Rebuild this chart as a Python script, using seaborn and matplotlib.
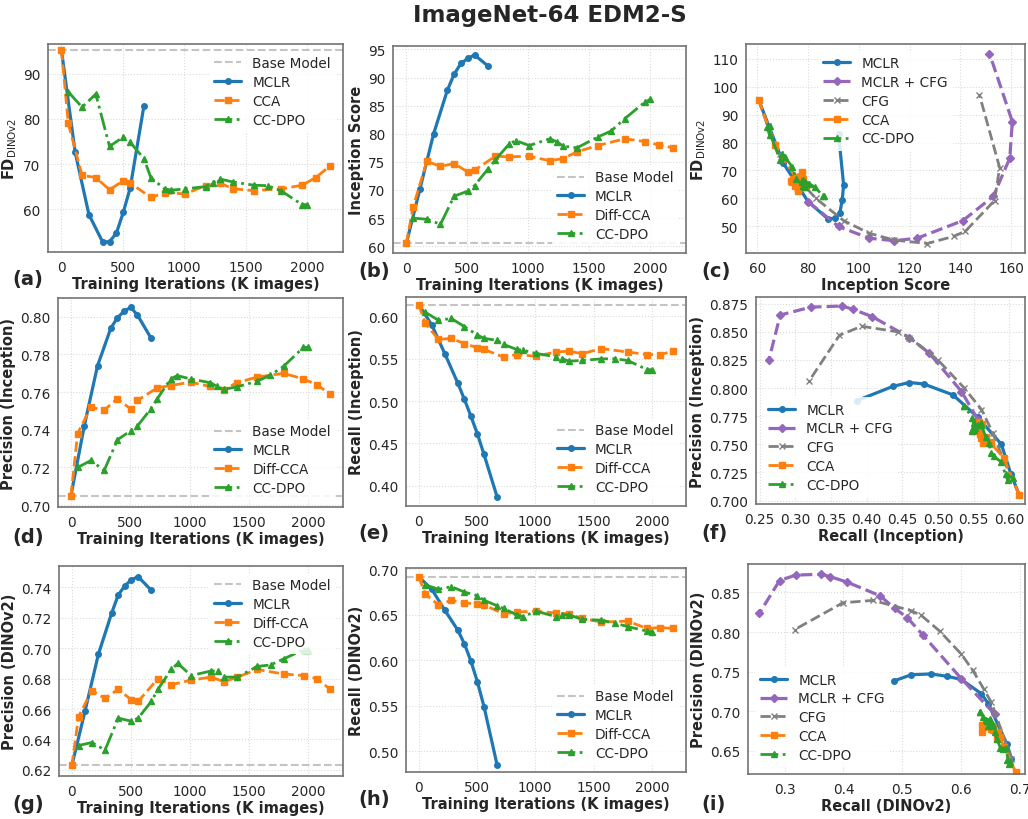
import numpy as np
import seaborn as sns
import matplotlib
matplotlib.use("Agg")
import matplotlib.pyplot as plt
from matplotlib.ticker import MultipleLocator

# training steps (K images)
mclr_k = [0, 112, 224, 336, 392, 448, 504, 560, 672]
cca_k = [0, 56, 168, 280, 392, 504, 560, 728, 840, 1008, 1176, 1288, 1400, 1568, 1792, 1960, 2072, 2184]
dpo_k = [56, 168, 280, 392, 504, 560, 672, 728, 840, 896, 1008, 1176, 1232, 1288, 1400, 1568, 1680, 1792, 1960, 2000]

# base model values
base_fd = 95.3
base_is = 60.5
base_prec_inc = 0.705
base_rec_inc = 0.614
base_prec_dino = 0.623
base_rec_dino = 0.692

# FD DINOv2 (a)
fd_mclr = [95.3, 72.6, 58.8, 52.7, 52.8, 54.7, 59.3, 64.7, 82.9]
fd_cca = [95.3, 79, 67.5, 67, 64.3, 66.3, 65.8, 62.6, 63.6, 63.4, 65.2, 65.8, 64.5, 64.1, 64.5, 65.3, 67, 69.5]
fd_dpo = [86, 82.6, 85.5, 73.9, 76, 74.8, 71.2, 67, 64.5, 64.2, 64.5, 65, 65.8, 66.7, 66, 65.3, 65.2, 64, 61, 61]

# Inception score (b)
is_mclr = [60.5, 70.2, 80, 87.7, 90.6, 92.5, 93.4, 94, 92]
is_cca = [60.5, 67, 75.1, 74.2, 74.7, 73.2, 73.5, 76, 75.9, 76, 75.2, 75.6, 76.8, 77.9, 79.1, 78.6, 78, 77.5]
is_dpo = [65, 64.8, 63.9, 68.9, 69.8, 70.8, 73.8, 75.3, 78.1, 78.8, 77.9, 79.1, 78.6, 77.8, 77.5, 79.4, 80.5, 82.7, 85.7, 86.1]

# Precision / Recall (Inception) (d, e)
prec_inc_mclr = [0.705, 0.742, 0.774, 0.794, 0.7995, 0.803, 0.805, 0.801, 0.789]
prec_inc_cca = [0.705, 0.738, 0.752, 0.7505, 0.7565, 0.751, 0.7556, 0.7623, 0.7635, 0.7653, 0.763, 0.7614,
                0.765, 0.768, 0.770, 0.767, 0.764, 0.759]
prec_inc_dpo = [0.720, 0.7237, 0.7184, 0.7347, 0.7395, 0.742, 0.751, 0.7565, 0.767, 0.7688, 0.767, 0.765,
                0.763, 0.7615, 0.7628, 0.7658, 0.769, 0.7737, 0.7838, 0.7838]
rec_inc_mclr = [0.614, 0.590, 0.556, 0.521, 0.502, 0.482, 0.461, 0.437, 0.387]
rec_inc_cca = [0.614, 0.592, 0.573, 0.574, 0.568, 0.563, 0.561, 0.552, 0.555, 0.553, 0.558, 0.559,
               0.556, 0.562, 0.558, 0.555, 0.555, 0.559]
rec_inc_dpo = [0.605, 0.5956, 0.5976, 0.588, 0.578, 0.5741, 0.5718, 0.567, 0.561, 0.560, 0.5563, 0.5523,
               0.550, 0.5471, 0.548, 0.5499, 0.550, 0.548, 0.5372, 0.537]

# Precision / Recall (DINOv2) (g, h)
prec_dino_mclr = [0.623, 0.659, 0.696, 0.723, 0.735, 0.741, 0.745, 0.747, 0.738]
prec_dino_cca = [0.623, 0.655, 0.672, 0.667, 0.673, 0.666, 0.665, 0.680, 0.676, 0.679, 0.681, 0.678,
                 0.681, 0.686, 0.683, 0.682, 0.680, 0.673]
prec_dino_dpo = [0.636, 0.638, 0.633, 0.654, 0.652, 0.654, 0.665, 0.673, 0.686, 0.690, 0.682, 0.685,
                 0.685, 0.681, 0.681, 0.688, 0.689, 0.693, 0.699, 0.699]
rec_dino_mclr = [0.692, 0.678, 0.655, 0.633, 0.618, 0.599, 0.576, 0.549, 0.485]
rec_dino_cca = [0.692, 0.673, 0.661, 0.666, 0.663, 0.662, 0.661, 0.651, 0.653, 0.654, 0.652, 0.651,
                0.646, 0.642, 0.643, 0.635, 0.636, 0.635]
rec_dino_dpo = [0.683, 0.678, 0.681, 0.675, 0.671, 0.666, 0.660, 0.657, 0.650, 0.648, 0.654, 0.648,
                0.650, 0.650, 0.645, 0.644, 0.641, 0.637, 0.632, 0.631]

# guidance sweeps (c)
is_cfg = [60.5, 64, 69, 75, 83, 94, 104, 114, 127, 137.5, 142, 153.5, 155.5, 147.5]
fd_cfg = [95.3, 86, 76, 68, 60, 52, 47.5, 45, 43.8, 46.4, 48.2, 59.2, 71, 97.2]
is_mcfg = [80, 92, 104, 114, 123, 141, 153, 159.5, 160.5, 151.5]
fd_mcfg = [58.8, 49.9, 45.7, 44.8, 45.7, 52, 60.7, 74.4, 87.5, 111.9]

# (f)
f_rec_mclr = [0.614, 0.602, 0.589, 0.556, 0.521, 0.480, 0.460, 0.437, 0.387]
f_prec_mclr = [0.705, 0.724, 0.750, 0.774, 0.794, 0.8037, 0.805, 0.8016, 0.789]
f_rec_cfg = [0.614, 0.592, 0.577, 0.561, 0.537, 0.50, 0.460, 0.444, 0.393, 0.362, 0.319]
f_prec_cfg = [0.705, 0.736, 0.760, 0.781, 0.800, 0.825, 0.845, 0.850, 0.855, 0.847, 0.806]
f_rec_mcfg = [0.556, 0.533, 0.488, 0.460, 0.408, 0.381, 0.366, 0.322, 0.279, 0.263]
f_prec_mcfg = [0.772, 0.797, 0.831, 0.845, 0.8635, 0.870, 0.873, 0.872, 0.865, 0.825]

# (i)
i_rec_mclr = [0.685, 0.677, 0.646, 0.634, 0.600, 0.576, 0.549, 0.515, 0.485]
i_prec_mclr = [0.640, 0.659, 0.709, 0.722, 0.740, 0.744, 0.747, 0.746, 0.738]
i_rec_cfg = [0.685, 0.651, 0.638, 0.619, 0.600, 0.5635, 0.532, 0.515, 0.450, 0.399, 0.317]
i_prec_cfg = [0.640, 0.711, 0.728, 0.752, 0.772, 0.801, 0.821, 0.827, 0.840, 0.837, 0.803]
i_rec_mcfg = [0.657, 0.600, 0.535, 0.5085, 0.487, 0.4615, 0.4065, 0.3776, 0.3623, 0.3187, 0.2915, 0.2575]
i_prec_mcfg = [0.696, 0.741, 0.796, 0.818, 0.830, 0.846, 0.863, 0.870, 0.873, 0.872, 0.865, 0.824]

BLUE, ORANGE, GREEN, PURPLE, GRAY = "#1f77b4", "#ff7f0e", "#2ca02c", "#9467bd", "#808080"

sns.set_style("whitegrid", {"grid.color": "0.86", "grid.linestyle": ":", "axes.edgecolor": "0.45"})
plt.rcParams["font.size"] = 10

fig = plt.figure(figsize=(10.28, 8.2), dpi=100)

# axes boxes in pixels: left, top, right, bottom
boxes = [(48, 45, 343, 253), (393, 47, 686, 254), (746, 45, 1025, 254),
         (58, 299, 343, 508), (406, 298, 686, 507), (756, 298, 1025, 505),
         (59, 567, 343, 777), (406, 569, 686, 773), (748, 565, 1025, 775)]
axes = []
for l, t, r, b in boxes:
    axes.append(fig.add_axes([l / 1028, 1 - b / 820, (r - l) / 1028, (b - t) / 820]))

# panel tag positions (pixels)
tag_x = [12, 358, 701] * 3
tag_y = [279, 272, 272, 537, 534, 534, 805, 800, 805]

LAB = 10.5
LEG = 9.8


def line(ax, x, y, label, color, ls, marker, lw=2.0, ms=4.5):
    sns.lineplot(x=x, y=y, ax=ax, color=color, linestyle=ls, marker=marker, linewidth=lw,
                 markersize=ms, markeredgecolor=color, markeredgewidth=1.0,
                 label=label, sort=False, estimator=None)


def finish_legend(ax, loc):
    ax.legend(loc=loc, frameon=True, edgecolor="none", framealpha=0.85, fontsize=LEG,
              labelspacing=0.35)


def training_panel(ax, base, ym, yc, yd, cca_name, ylabel, loc, ylim, ystep):
    ax.axhline(base, color="#c4c4c4", ls="--", lw=1.5, label="Base Model")
    line(ax, mclr_k, ym, "MCLR", BLUE, "-", "o", lw=2.3, ms=4)
    line(ax, cca_k, yc, cca_name, ORANGE, "--", "s", ms=4)
    line(ax, dpo_k, yd, "CC-DPO", GREEN, "-.", "^", ms=4)
    ax.set_ylim(*ylim)
    ax.xaxis.set_major_locator(MultipleLocator(500))
    ax.yaxis.set_major_locator(MultipleLocator(ystep))
    ax.set_xlabel("Training Iterations (K images)", fontweight="bold", fontsize=LAB)
    ax.set_ylabel(ylabel, fontweight="bold", fontsize=LAB)
    finish_legend(ax, loc)


def tradeoff_panel(ax, xm, ym, xg, yg, xc, yc, xca, yca, xd, yd, xlabel, ylabel, loc, xstep, ystep):
    line(ax, xm, ym, "MCLR", BLUE, "-", "o", lw=2.3, ms=4)
    line(ax, xg, yg, "MCLR + CFG", PURPLE, "--", "D", lw=2.3, ms=4)
    line(ax, xc, yc, "CFG", GRAY, "--", "x", lw=2.0, ms=4.5)
    line(ax, xca, yca, "CCA", ORANGE, "--", "s", ms=4)
    line(ax, xd, yd, "CC-DPO", GREEN, "-.", "^", ms=4)
    ax.xaxis.set_major_locator(MultipleLocator(xstep))
    ax.yaxis.set_major_locator(MultipleLocator(ystep))
    ax.set_xlabel(xlabel, fontweight="bold", fontsize=LAB)
    ax.set_ylabel(ylabel, fontweight="bold", fontsize=LAB)
    finish_legend(ax, loc)


fd_label = r"$\mathbf{FD}_{\mathrm{DINOv2}}$"

training_panel(axes[0], base_fd, fd_mclr, fd_cca, fd_dpo, "CCA", fd_label, "upper right", (50.5, 96.6), 10)
training_panel(axes[1], base_is, is_mclr, is_cca, is_dpo, "Diff-CCA", "Inception Score", "lower right",
               (58.8, 95.6), 5)
tradeoff_panel(axes[2], is_mclr, fd_mclr, is_mcfg, fd_mcfg, is_cfg, fd_cfg, is_cca, fd_cca, is_dpo, fd_dpo,
               "Inception Score", fd_label, "upper center", 20, 10)

training_panel(axes[3], base_prec_inc, prec_inc_mclr, prec_inc_cca, prec_inc_dpo, "Diff-CCA",
               "Precision (Inception)", "lower right", (0.699, 0.810), 0.02)
training_panel(axes[4], base_rec_inc, rec_inc_mclr, rec_inc_cca, rec_inc_dpo, "Diff-CCA",
               "Recall (Inception)", "lower right", (0.376, 0.623), 0.05)
tradeoff_panel(axes[5], f_rec_mclr, f_prec_mclr, f_rec_mcfg, f_prec_mcfg, f_rec_cfg, f_prec_cfg,
               rec_inc_cca, prec_inc_cca, rec_inc_dpo, prec_inc_dpo,
               "Recall (Inception)", "Precision (Inception)", "lower left", 0.05, 0.025)
axes[5].set_xlim(0.245, 0.622)
axes[5].set_ylim(0.697, 0.881)

training_panel(axes[6], base_prec_dino, prec_dino_mclr, prec_dino_cca, prec_dino_dpo, "Diff-CCA",
               "Precision (DINOv2)", "upper right", (0.616, 0.754), 0.02)
training_panel(axes[7], base_rec_dino, rec_dino_mclr, rec_dino_cca, rec_dino_dpo, "Diff-CCA",
               "Recall (DINOv2)", "lower right", (0.477, 0.7015), 0.05)
tradeoff_panel(axes[8], i_rec_mclr, i_prec_mclr, i_rec_mcfg, i_prec_mcfg, i_rec_cfg, i_prec_cfg,
               rec_dino_cca, prec_dino_cca, rec_dino_dpo, prec_dino_dpo,
               "Recall (DINOv2)", "Precision (DINOv2)", "lower left", 0.1, 0.05)
axes[8].set_xlim(0.238, 0.708)
axes[8].set_ylim(0.6205, 0.886)

for ax, tag, tx, ty in zip(axes, "abcdefghi", tag_x, tag_y):
    ax.tick_params(labelsize=9.8, pad=2)
    ax.xaxis.labelpad = 2
    ax.yaxis.labelpad = 3
    for s in ax.spines.values():
        s.set_linewidth(1.2)
    fig.text(tx / 1028, 1 - ty / 820, f"({tag})", fontsize=14, fontweight="bold",
             va="center", ha="left")

fig.suptitle("ImageNet-64 EDM2-S", fontweight="bold", fontsize=16.5, x=0.535, y=0.995)

fig.savefig("out.png", dpi=100)
